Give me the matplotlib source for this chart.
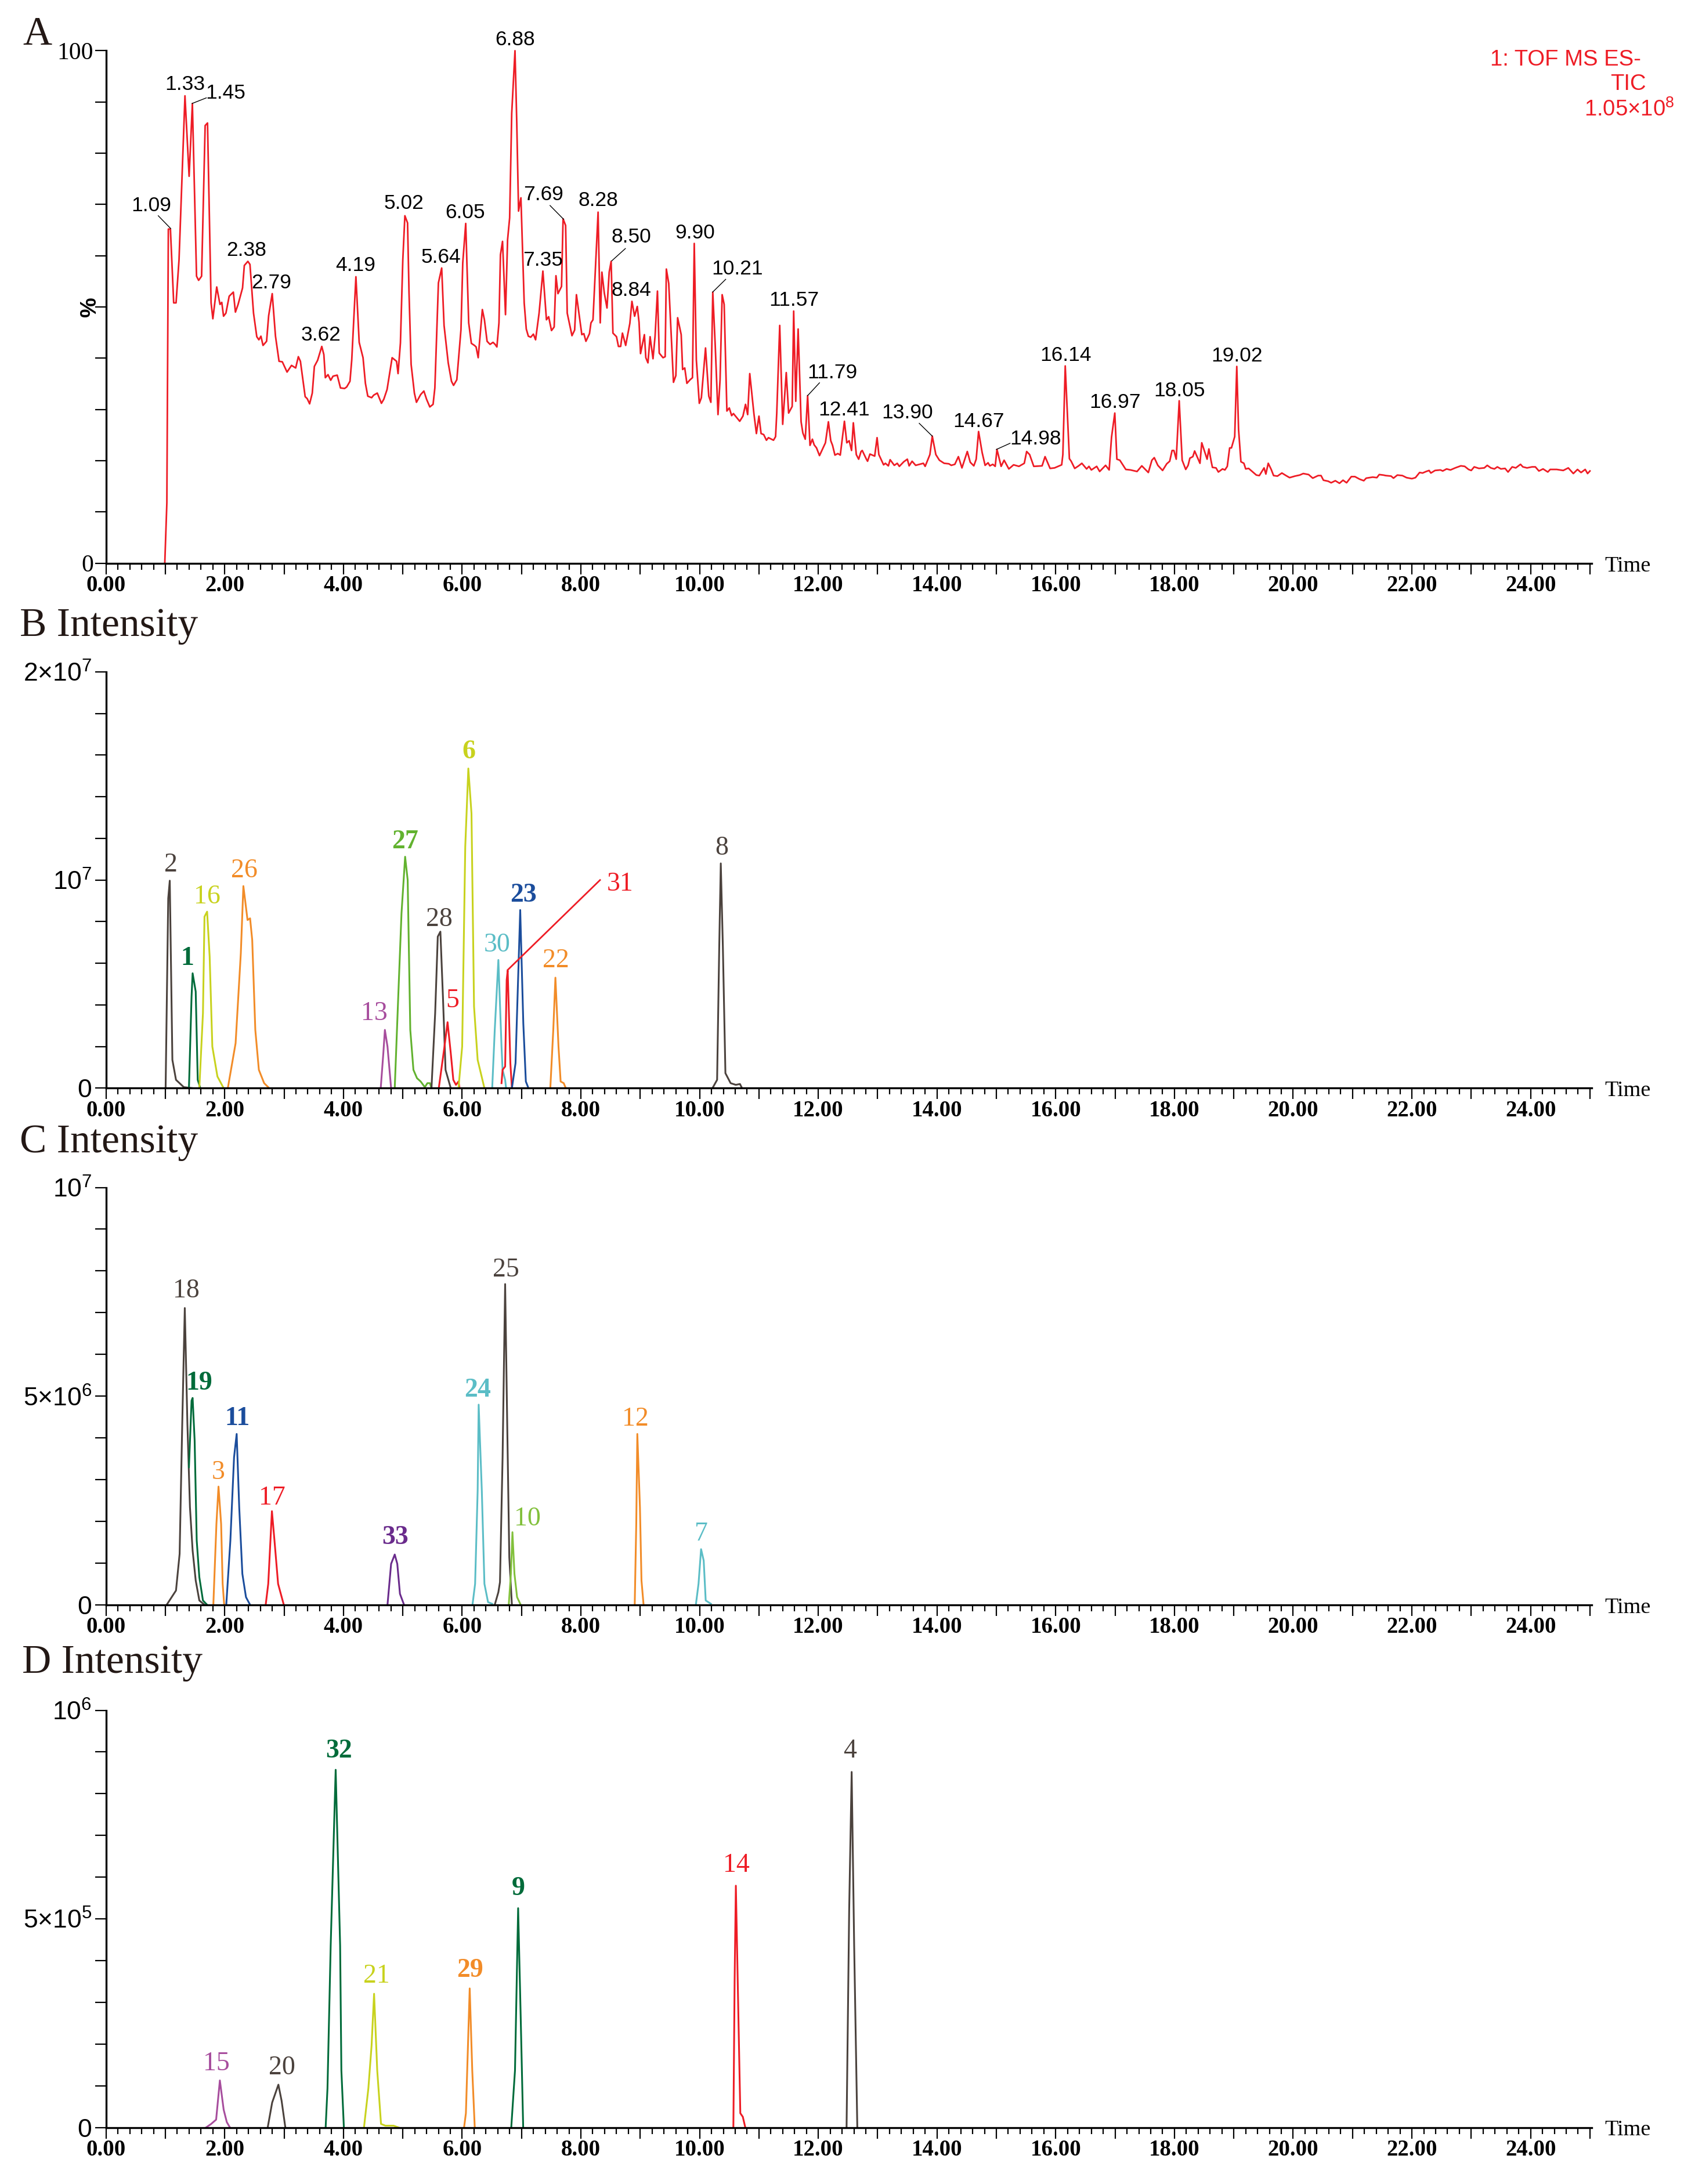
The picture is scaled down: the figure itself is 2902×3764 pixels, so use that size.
import matplotlib
matplotlib.use("Agg")
import matplotlib.pyplot as plt
import numpy as np
from matplotlib.ticker import MultipleLocator, FixedLocator, FuncFormatter

SERIF = "Liberation Serif"
SANS = "Liberation Sans"
plt.rcParams["font.family"] = SERIF
plt.rcParams["mathtext.fontset"] = "custom"
plt.rcParams["mathtext.rm"] = SANS
plt.rcParams["mathtext.it"] = SANS + ":italic"
plt.rcParams["mathtext.bf"] = SANS + ":bold"

# ---------------- panel A: TIC trace (time min, relative %) ----------------
TIC = [
    (0.99, 0), (1.025, 11.8), (1.05, 65.2), (1.085, 65.2), (1.14, 50.8), (1.18, 50.8),
    (1.23, 59.2), (1.33, 91.2), (1.40, 75.5), (1.455, 89.7), (1.525, 56.0), (1.56, 55.2),
    (1.61, 56.0), (1.67, 85.4), (1.71, 85.9), (1.77, 50.8), (1.80, 47.7), (1.865, 53.9),
    (1.92, 50.5), (1.95, 50.9), (1.98, 48.2), (2.02, 48.8), (2.075, 52.1), (2.145, 52.9),
    (2.18, 49.0), (2.225, 50.5), (2.30, 53.7), (2.33, 58.1), (2.39, 58.9), (2.425, 58.3),
    (2.485, 48.8), (2.54, 44.2), (2.575, 43.6), (2.61, 44.3), (2.645, 42.5), (2.705, 43.3),
    (2.74, 48.3), (2.80, 52.6), (2.855, 44.3), (2.915, 39.4), (2.97, 39.3), (3.05, 37.3),
    (3.125, 38.6), (3.195, 38.1), (3.24, 40.3), (3.275, 39.4), (3.355, 32.5), (3.39, 32.1),
    (3.43, 31.1), (3.475, 33.2), (3.51, 38.4), (3.565, 39.6), (3.635, 42.3), (3.67, 40.7),
    (3.695, 36.2), (3.74, 36.8), (3.785, 35.7), (3.825, 36.5), (3.895, 36.7), (3.95, 34.2),
    (4.02, 34.1), (4.055, 34.4), (4.11, 35.5), (4.14, 39.7), (4.21, 55.9), (4.265, 43.1),
    (4.33, 40.1), (4.37, 35.1), (4.41, 32.6), (4.475, 32.3), (4.51, 32.8), (4.57, 33.2),
    (4.64, 31.2), (4.68, 32.0), (4.735, 33.9), (4.82, 40.1), (4.895, 39.4), (4.92, 37.0),
    (4.96, 43.0), (5.0, 59.2), (5.035, 67.8), (5.08, 66.4), (5.105, 52.7), (5.14, 38.8),
    (5.195, 33.2), (5.23, 31.4), (5.30, 32.9), (5.355, 33.6), (5.40, 32.0), (5.455, 30.5),
    (5.51, 31.0), (5.54, 34.2), (5.60, 54.7), (5.655, 57.6), (5.695, 46.4), (5.765, 39.1),
    (5.82, 35.5), (5.855, 34.7), (5.91, 35.8), (5.98, 45.6), (6.01, 58.6), (6.06, 66.3),
    (6.11, 46.9), (6.155, 42.9), (6.207, 42.5), (6.235, 42.2), (6.27, 40.1), (6.34, 49.5),
    (6.375, 47.5), (6.42, 43.3), (6.47, 42.7), (6.52, 43.1), (6.555, 42.7), (6.585, 42.2),
    (6.62, 46.9), (6.645, 60.2), (6.68, 62.8), (6.73, 48.5), (6.765, 63.1), (6.80, 67.4),
    (6.835, 87.8), (6.89, 100.0), (6.92, 85.9), (6.95, 68.7), (6.99, 71.3), (7.045, 50.8),
    (7.08, 45.7), (7.115, 44.3), (7.155, 44.1), (7.2, 44.7), (7.237, 43.6), (7.296, 48.8),
    (7.36, 57.0), (7.42, 47.5), (7.457, 48.1), (7.505, 45.4), (7.55, 46.1), (7.58, 56.1),
    (7.614, 52.6), (7.674, 54.0), (7.70, 67.2), (7.743, 65.9), (7.77, 48.8), (7.85, 44.4),
    (7.895, 45.5), (7.925, 52.4), (7.97, 48.5), (8.016, 44.6), (8.05, 44.8), (8.085, 43.3),
    (8.145, 44.8), (8.17, 46.9), (8.204, 47.5), (8.29, 68.5), (8.326, 46.9), (8.354, 56.8),
    (8.395, 52.7), (8.44, 49.8), (8.477, 56.8), (8.51, 58.9), (8.54, 44.9), (8.6, 44.2),
    (8.633, 42.3), (8.67, 42.3), (8.70, 44.9), (8.755, 42.5), (8.825, 46.8), (8.86, 51.1),
    (8.905, 48.2), (8.95, 50.1), (8.98, 47.0), (9.005, 40.9), (9.07, 44.6), (9.094, 40.1),
    (9.13, 39.1), (9.166, 44.2), (9.215, 39.9), (9.25, 44.3), (9.29, 53.1), (9.32, 41.0),
    (9.384, 40.1), (9.42, 40.3), (9.44, 57.4), (9.48, 54.6), (9.52, 44.9), (9.56, 35.3),
    (9.6, 36.6), (9.63, 47.9), (9.69, 44.6), (9.714, 37.8), (9.75, 38.1), (9.786, 35.1),
    (9.84, 35.8), (9.88, 36.2), (9.91, 62.4), (9.945, 39.7), (9.995, 31.2), (10.03, 32.3),
    (10.1, 42.0), (10.155, 32.6), (10.19, 31.4), (10.222, 52.9), (10.264, 42.3), (10.31, 29.0),
    (10.345, 35.8), (10.38, 52.4), (10.414, 50.5), (10.46, 29.7), (10.5, 30.3), (10.54, 28.8),
    (10.57, 29.2), (10.676, 27.7), (10.73, 28.7), (10.774, 31.0), (10.81, 29.0), (10.845, 37.0),
    (10.915, 29.2), (10.957, 25.3), (11.0, 28.7), (11.036, 25.3), (11.08, 25.1), (11.126, 24.0),
    (11.16, 24.5), (11.245, 24.0), (11.28, 24.7), (11.3, 29.3), (11.35, 46.4), (11.4, 27.1),
    (11.46, 37.2), (11.50, 29.3), (11.56, 30.6), (11.585, 49.2), (11.62, 31.6), (11.66, 45.7),
    (11.71, 27.6), (11.74, 25.4), (11.78, 24.2), (11.82, 32.7), (11.86, 23.0), (11.90, 24.2),
    (11.93, 23.1), (11.97, 22.5), (12.02, 21.0), (12.12, 23.5), (12.17, 27.6), (12.21, 23.9),
    (12.24, 23.0), (12.28, 21.1), (12.33, 21.4), (12.37, 21.1), (12.44, 27.7), (12.48, 23.5),
    (12.52, 23.9), (12.56, 22.0), (12.59, 27.4), (12.64, 21.2), (12.68, 20.3), (12.72, 21.8),
    (12.74, 22.0), (12.81, 20.3), (12.83, 19.9), (12.87, 21.3), (12.95, 20.9), (12.99, 24.5),
    (13.02, 21.2), (13.10, 19.2), (13.13, 19.5), (13.18, 19.0), (13.21, 20.2), (13.28, 19.1),
    (13.33, 19.5), (13.365, 18.9), (13.44, 19.8), (13.50, 20.3), (13.53, 19.0), (13.58, 19.9),
    (13.64, 19.1), (13.77, 19.5), (13.80, 18.9), (13.88, 21.2), (13.92, 24.8), (13.98, 21.2),
    (14.04, 20.1), (14.12, 19.5), (14.20, 19.4), (14.24, 19.1), (14.30, 19.3), (14.36, 20.8),
    (14.42, 18.6), (14.51, 21.8), (14.56, 19.7), (14.62, 19.0), (14.66, 20.3), (14.70, 25.7),
    (14.76, 21.6), (14.81, 19.1), (14.86, 19.6), (14.89, 19.0), (14.94, 19.3), (14.98, 18.9),
    (15.01, 22.2), (15.08, 18.9), (15.13, 20.1), (15.21, 18.4), (15.29, 19.2), (15.38, 18.9),
    (15.47, 19.5), (15.51, 21.8), (15.56, 21.2), (15.63, 18.9), (15.77, 19.0), (15.82, 20.8),
    (15.905, 18.5), (15.98, 18.6), (16.04, 18.9), (16.10, 19.2), (16.12, 21.2), (16.16, 38.5),
    (16.23, 20.4), (16.26, 19.9), (16.32, 18.5), (16.385, 19.0), (16.44, 19.5), (16.52, 18.4),
    (16.56, 18.9), (16.60, 18.2), (16.69, 18.9), (16.74, 17.9), (16.84, 19.1), (16.90, 18.2),
    (16.94, 24.6), (16.995, 29.3), (17.03, 20.3), (17.08, 20.1), (17.18, 18.3), (17.26, 18.2),
    (17.37, 17.9), (17.45, 19.0), (17.56, 17.7), (17.62, 20.1), (17.66, 20.6), (17.72, 19.1),
    (17.80, 18.1), (17.87, 19.4), (17.92, 19.9), (17.96, 22.0), (17.99, 22.0), (18.03, 20.3),
    (18.08, 31.7), (18.13, 20.1), (18.19, 18.3), (18.23, 19.1), (18.26, 20.5), (18.31, 20.8),
    (18.34, 21.9), (18.43, 19.5), (18.46, 23.5), (18.55, 20.3), (18.58, 22.3), (18.62, 19.8),
    (18.64, 18.7), (18.70, 18.6), (18.74, 17.8), (18.81, 18.4), (18.85, 18.2), (18.89, 18.9),
    (18.93, 22.5), (18.96, 22.5), (19.015, 24.7), (19.05, 38.4), (19.08, 26.1), (19.12, 19.8),
    (19.17, 19.5), (19.20, 18.4), (19.25, 18.5), (19.38, 17.2), (19.43, 17.1), (19.51, 18.6),
    (19.54, 17.4), (19.58, 19.5), (19.63, 18.3), (19.67, 17.1), (19.735, 17.0), (19.81, 17.6),
    (19.88, 17.1), (19.94, 16.7), (20.03, 17.0), (20.11, 17.2), (20.17, 17.5), (20.26, 17.3),
    (20.33, 16.6), (20.42, 17.1), (20.47, 17.1), (20.51, 16.2), (20.59, 16.0), (20.64, 15.7),
    (20.71, 16.1), (20.78, 15.6), (20.84, 16.2), (20.90, 15.7), (20.98, 16.9), (21.04, 16.9),
    (21.12, 16.4), (21.19, 16.1), (21.23, 16.6), (21.34, 16.8), (21.41, 16.7), (21.45, 17.3),
    (21.52, 17.2), (21.56, 17.1), (21.65, 17.0), (21.69, 16.6), (21.755, 17.2), (21.84, 17.1),
    (21.91, 16.7), (22.00, 16.5), (22.06, 16.7), (22.13, 17.7), (22.18, 17.6), (22.24, 17.9),
    (22.29, 18.1), (22.32, 17.6), (22.39, 18.1), (22.48, 18.2), (22.52, 18.0), (22.585, 18.4),
    (22.65, 18.2), (22.73, 18.6), (22.825, 19.0), (22.89, 18.9), (22.955, 18.3), (23.0, 18.1),
    (23.05, 18.8), (23.13, 18.5), (23.22, 18.6), (23.27, 19.1), (23.33, 18.6), (23.39, 18.4),
    (23.44, 18.8), (23.50, 18.4), (23.57, 18.5), (23.62, 17.8), (23.69, 18.8), (23.75, 18.6),
    (23.83, 19.3), (23.87, 18.8), (23.94, 18.6), (24.025, 18.8), (24.08, 18.8), (24.14, 18.0),
    (24.21, 18.4), (24.29, 17.8), (24.33, 18.3), (24.44, 18.3), (24.55, 18.1), (24.635, 18.6),
    (24.72, 17.5), (24.79, 18.3), (24.85, 17.7), (24.92, 18.3), (24.96, 17.5), (25.0, 18.0),
]

# peak annotations of panel A: text, label position (t, %)
A_LABELS = [
    ("1.09", 0.76, 69.8), ("1.33", 1.33, 93.4), ("1.45", 2.01, 91.7), ("2.38", 2.37, 61.0),
    ("2.79", 2.79, 54.7), ("3.62", 3.62, 44.5), ("4.19", 4.20, 58.1), ("5.02", 5.02, 70.2),
    ("5.64", 5.64, 59.7), ("6.05", 6.05, 68.4), ("6.88", 6.89, 102.1), ("7.69", 7.37, 71.9),
    ("7.35", 7.36, 59.1), ("8.28", 8.29, 70.8), ("8.50", 8.85, 63.7), ("8.84", 8.85, 53.2),
    ("9.90", 9.92, 64.4), ("10.21", 10.64, 57.4), ("11.57", 11.59, 51.3), ("11.79", 12.24, 37.2),
    ("12.41", 12.43, 29.9), ("13.90", 13.50, 29.3), ("14.67", 14.70, 27.7), ("14.98", 15.66, 24.2),
    ("16.14", 16.17, 40.6), ("16.97", 17.00, 31.4), ("18.05", 18.08, 33.7), ("19.02", 19.05, 40.4),
]
# leader lines (t0, p0, t1, p1)
A_LEADERS = [
    (0.88, 67.8, 1.09, 65.3), (1.69, 90.8, 1.45, 89.7), (7.48, 69.8, 7.71, 67.1),
    (8.75, 61.4, 8.52, 59.0), (10.44, 55.4, 10.22, 52.9), (12.02, 35.2, 11.82, 32.7),
    (13.70, 27.3, 13.92, 24.8), (15.23, 23.4, 15.00, 22.2),
]

# ---------------- panels B, C, D: extracted ion peaks ----------------
# B intensities in units of 1e7
B_PEAKS = {
    "2": ([1.004, 1.048, 1.074, 1.118, 1.179, 1.310, 1.459], [0, 0.912, 0.997, 0.136, 0.04, 0.005, 0]),
    "1": ([1.397, 1.441, 1.459, 1.511, 1.545, 1.589], [0, 0.44, 0.552, 0.464, 0.04, 0]),
    "16": ([1.572, 1.633, 1.659, 1.703, 1.746, 1.791, 1.877, 1.982], [0, 0.36, 0.824, 0.848, 0.632, 0.2, 0.056, 0]),
    "26": ([2.052, 2.183, 2.271, 2.314, 2.384, 2.427, 2.463, 2.515, 2.575, 2.664, 2.750],
           [0, 0.216, 0.648, 0.971, 0.808, 0.816, 0.712, 0.28, 0.088, 0.024, 0]),
    "13": ([4.628, 4.672, 4.698, 4.742, 4.803], [0, 0.168, 0.28, 0.2, 0]),
    "27": ([4.864, 4.934, 4.978, 5.039, 5.082, 5.126, 5.179, 5.239, 5.301, 5.371, 5.414, 5.458, 5.483],
           [0, 0.52, 0.84, 1.112, 1.0, 0.28, 0.088, 0.048, 0.032, 0.005, 0.024, 0.024, 0]),
    "28": ([5.483, 5.545, 5.589, 5.633, 5.676, 5.720, 5.808], [0, 0.36, 0.728, 0.752, 0.44, 0.088, 0]),
    "5": ([5.606, 5.702, 5.754, 5.808, 5.851, 5.895, 5.938, 5.956], [0, 0.2, 0.317, 0.168, 0.04, 0.016, 0.032, 0]),
    "6": ([5.938, 6.000, 6.052, 6.104, 6.157, 6.200, 6.261, 6.375], [0, 0.2, 1.16, 1.536, 1.32, 0.392, 0.136, 0]),
    "30": ([6.506, 6.549, 6.610, 6.663, 6.681, 6.724, 6.740], [0, 0.28, 0.616, 0.2, 0.088, 0.04, 0]),
    "31": ([6.663, 6.681, 6.724, 6.750, 6.767, 6.812, 6.838], [0.024, 0.088, 0.104, 0.52, 0.565, 0.12, 0]),
    "23": ([6.838, 6.899, 6.978, 7.030, 7.073, 7.117], [0, 0.12, 0.856, 0.312, 0.032, 0]),
    "22": ([7.485, 7.535, 7.571, 7.623, 7.659, 7.711, 7.746], [0, 0.28, 0.531, 0.2, 0.032, 0.024, 0]),
    "8": ([10.217, 10.295, 10.331, 10.357, 10.392, 10.435, 10.523, 10.610, 10.680, 10.715],
          [0, 0.04, 0.68, 1.08, 0.68, 0.072, 0.024, 0.016, 0.02, 0]),
}
B_LABEL_POS = {
    "2": (1.092, 1.072), "1": (1.371, 0.624), "16": (1.703, 0.92), "26": (2.332, 1.045),
    "13": (4.515, 0.36), "27": (5.039, 1.184), "28": (5.615, 0.811), "5": (5.834, 0.419),
    "6": (6.112, 1.616), "30": (6.593, 0.688), "31": (8.663, 0.981), "23": (7.030, 0.928),
    "22": (7.580, 0.611), "8": (10.375, 1.152),
}
B_LEADER = (6.767, 0.568, 8.323, 1.0)

# C intensities in units of 1e6
C_PEAKS = {
    "18": ([1.022, 1.179, 1.240, 1.284, 1.327, 1.371, 1.414, 1.459, 1.511, 1.572, 1.659],
           [0, 0.343, 1.221, 4.334, 7.111, 4.334, 2.338, 1.30, 0.583, 0.104, 0]),
    "19": ([1.397, 1.441, 1.459, 1.493, 1.528, 1.572, 1.633, 1.703], [3.296, 4.892, 4.956, 3.935, 1.54, 0.662, 0.104, 0]),
    "3": ([1.808, 1.860, 1.895, 1.939, 1.965, 1.991], [0, 1.939, 2.833, 1.939, 0.503, 0]),
    "11": ([2.026, 2.095, 2.157, 2.201, 2.244, 2.297, 2.358, 2.427], [0, 1.54, 3.536, 4.094, 2.338, 0.742, 0.184, 0]),
    "17": ([2.690, 2.733, 2.795, 2.838, 2.899, 2.995], [0, 0.503, 2.243, 1.54, 0.503, 0]),
    "33": ([4.742, 4.803, 4.864, 4.907, 4.952, 5.021], [0, 0.982, 1.205, 0.982, 0.263, 0]),
    "24": ([6.174, 6.218, 6.261, 6.278, 6.331, 6.375, 6.436, 6.506], [0, 0.503, 2.737, 4.796, 2.737, 0.503, 0.064, 0.024]),
    "25": ([6.549, 6.610, 6.637, 6.681, 6.724, 6.759, 6.794, 6.838], [0, 0.303, 0.543, 3.536, 7.685, 4.334, 1.141, 0]),
    "10": ([6.785, 6.821, 6.847, 6.881, 6.925, 6.986], [0, 0.742, 1.74, 0.742, 0.184, 0]),
    "12": ([8.907, 8.933, 8.951, 8.995, 9.021, 9.056], [0, 1.939, 4.094, 2.338, 0.583, 0]),
    "7": ([9.937, 9.982, 10.025, 10.069, 10.103, 10.191], [0, 0.503, 1.333, 1.061, 0.104, 0.024]),
}
C_LABEL_POS = {
    "18": (1.353, 7.526), "19": (1.572, 5.307), "3": (1.895, 3.176), "11": (2.209, 4.453),
    "17": (2.795, 2.562), "33": (4.873, 1.604), "24": (6.261, 5.148), "25": (6.741, 8.029),
    "10": (7.099, 2.059), "12": (8.916, 4.453), "7": (10.025, 1.70),
}

# D intensities in units of 1e5
D_PEAKS = {
    "15": ([1.685, 1.771, 1.855, 1.918, 1.982, 2.035, 2.088], [0, 0.085, 0.188, 1.128, 0.427, 0.128, 0]),
    "20": ([2.724, 2.799, 2.904, 2.958, 3.021], [0, 0.598, 1.026, 0.641, 0]),
    "32": ([3.700, 3.731, 3.785, 3.869, 3.944, 3.965, 4.007], [0, 0.94, 4.359, 8.573, 4.359, 1.368, 0]),
    "21": ([4.346, 4.420, 4.474, 4.516, 4.569, 4.633, 4.707, 4.845, 4.929], [0, 0.94, 1.966, 3.205, 1.368, 0.085, 0.043, 0.043, 0]),
    "29": ([6.032, 6.063, 6.127, 6.170, 6.212], [0, 0.342, 3.333, 1.368, 0]),
    "9": ([6.827, 6.890, 6.943, 6.986, 7.028], [0, 1.368, 5.256, 2.65, 0]),
    "14": ([10.569, 10.590, 10.611, 10.654, 10.686, 10.728, 10.770], [0, 3.504, 5.795, 2.65, 0.342, 0.256, 0]),
    "4": ([12.476, 12.520, 12.562, 12.604, 12.657], [0, 5.214, 8.521, 4.359, 0]),
}
D_LABEL_POS = {
    "15": (1.855, 1.521), "20": (2.968, 1.436), "32": (3.922, 9.017), "21": (4.558, 3.632),
    "29": (6.128, 3.761), "9": (6.943, 5.726), "14": (10.621, 6.282), "4": (12.530, 9.017),
}

GRAY, DGREEN, YGREEN, ORANGE = "#4b423d", "#006b3a", "#c8d21e", "#f28c28"
MAGENTA, GREEN, RED, CYAN = "#a74d9d", "#62b22f", "#ee1c25", "#5bbdc6"
BLUE, PURPLE, LGREEN = "#1b4d9c", "#6a2b8c", "#82c03c"

COLORS = {
    "B": {"2": GRAY, "1": DGREEN, "16": YGREEN, "26": ORANGE, "13": MAGENTA, "27": GREEN,
          "28": GRAY, "5": RED, "6": YGREEN, "30": CYAN, "31": RED, "23": BLUE, "22": ORANGE, "8": GRAY},
    "C": {"18": GRAY, "19": DGREEN, "3": ORANGE, "11": BLUE, "17": RED, "33": PURPLE,
          "24": CYAN, "25": GRAY, "10": LGREEN, "12": ORANGE, "7": CYAN},
    "D": {"15": MAGENTA, "20": GRAY, "32": DGREEN, "21": YGREEN, "29": ORANGE, "9": DGREEN,
          "14": RED, "4": GRAY},
}
BOLD = {"B": {"1", "27", "6", "23"}, "C": {"19", "11", "24", "33"}, "D": {"32", "9", "29"}}

W, H = 2902, 3764
LEFT, AX_W = 182.7 / W, 2560.3 / W
XMAX = 25.03


def style_axes(ax):
    for s in ("top", "right"):
        ax.spines[s].set_visible(False)
    for s in ("left", "bottom"):
        ax.spines[s].set_linewidth(2.4)
    ax.set_xlim(0, XMAX)
    ax.xaxis.set_major_locator(MultipleLocator(1))
    ax.xaxis.set_minor_locator(MultipleLocator(0.2))
    ax.xaxis.set_major_formatter(
        FuncFormatter(lambda v, p: "%.2f" % v if int(round(v)) % 2 == 0 else ""))
    ax.tick_params(axis="x", which="major", direction="out", length=13.7, width=1.6,
                   pad=1, labelsize=28)
    ax.tick_params(axis="x", which="minor", direction="out", length=7.9, width=1.6)
    ax.tick_params(axis="y", which="major", direction="out", length=13.5, width=1.6, pad=4)
    plt.setp(ax.get_xticklabels(), fontweight="bold", family=SERIF)
    ax.annotate("Time", xy=(1, 0), xycoords="axes fraction", xytext=(16, -10),
                textcoords="offset points", va="baseline", ha="left",
                fontsize=27.5, family=SERIF)


fig = plt.figure(figsize=(W / 100, H / 100), dpi=100)

# ---------------- A ----------------
axA = fig.add_axes([LEFT, 1 - 970.7 / H, AX_W, 883.3 / H])
style_axes(axA)
tic = np.array(TIC)
axA.plot(tic[:, 0], tic[:, 1], color=RED, lw=2.0, clip_on=False)
axA.set_ylim(0, 100)
axA.yaxis.set_major_locator(MultipleLocator(10))
axA.yaxis.set_major_formatter(FuncFormatter(lambda v, p: {0: "0", 100: "100"}.get(int(round(v)), "")))
axA.tick_params(axis="y", labelsize=30, pad=2)
for txt, tx, ty in A_LABELS:
    axA.text(tx, ty, txt, ha="center", va="center", fontsize=25.5, family=SANS)
for t0, p0, t1, p1 in A_LEADERS:
    axA.plot([t0, t1], [p0, p1], color="black", lw=1.0, clip_on=False)
axA.text(-0.27, 50, "%", rotation=90, ha="center", va="center", fontsize=28,
         family=SANS, fontweight="bold")
fig.text(2828 / W, 1 - 103 / H, "1: TOF MS ES-", ha="right", va="center",
         fontsize=27.5, family=SANS, color=RED)
fig.text(2837 / W, 1 - 145 / H, "TIC", ha="right", va="center",
         fontsize=27.5, family=SANS, color=RED)
fig.text(2885 / W, 1 - 189 / H, r"$\mathrm{1.05×10^{8}}$", ha="right", va="center",
         fontsize=27.5, color=RED)


def peak_panel(bottom, height, key, peaks, label_pos, unit, ymax, yticks, ylabels):
    ax = fig.add_axes([LEFT, bottom, AX_W, height])
    style_axes(ax)
    for name, (ts, vals) in peaks.items():
        ax.plot(ts, np.array(vals) * unit, color=COLORS[key][name], lw=2.2)
    for name, (lx, ly) in label_pos.items():
        ax.text(lx, ly * unit, name, ha="center", va="center", fontsize=33,
                family=SERIF, color=COLORS[key][name],
                fontweight="bold" if name in BOLD[key] else "normal")
    ax.set_ylim(0, ymax)
    ax.yaxis.set_major_locator(FixedLocator(yticks))
    lab = dict(ylabels)
    ax.yaxis.set_major_formatter(
        FuncFormatter(lambda v, p: lab.get(int(round(v / unit * 10)), "")))
    ax.tick_params(axis="y", labelsize=32)
    plt.setp(ax.get_yticklabels(), family=SANS)
    return ax


axB = peak_panel(1 - 1875.4 / H, 717.4 / H, "B", B_PEAKS, B_LABEL_POS, 1e7, 2e7,
                 np.arange(0, 2.01e7, 2e6),
                 [(0, "0"), (10, r"$\mathrm{10^{7}}$"), (20, r"$\mathrm{2×10^{7}}$")])
t0, v0, t1, v1 = B_LEADER
axB.plot([t0, t1], [v0 * 1e7, v1 * 1e7], color=RED, lw=2.0)

axC = peak_panel(1 - 2765.8 / H, 719.3 / H, "C", C_PEAKS, C_LABEL_POS, 1e6, 1e7,
                 np.arange(0, 1.001e7, 1e6),
                 [(0, "0"), (50, r"$\mathrm{5×10^{6}}$"), (100, r"$\mathrm{10^{7}}$")])

axD = peak_panel(1 - 3666.6 / H, 719.1 / H, "D", D_PEAKS, D_LABEL_POS, 1e5, 1e6,
                 np.arange(0, 1.0001e6, 1e5),
                 [(0, "0"), (50, r"$\mathrm{5×10^{5}}$"), (100, r"$\mathrm{10^{6}}$")])

TITLE_COLOR = "#231815"
fig.text(39 / W, 1 - 77 / H, "A", fontsize=50, family=SERIF, color=TITLE_COLOR, va="baseline")
fig.text(34 / W, 1 - 1096 / H, "B Intensity", fontsize=50, family=SERIF, color=TITLE_COLOR, va="baseline")
fig.text(34 / W, 1 - 1986 / H, "C Intensity", fontsize=50, family=SERIF, color=TITLE_COLOR, va="baseline")
fig.text(38 / W, 1 - 2883 / H, "D Intensity", fontsize=50, family=SERIF, color=TITLE_COLOR, va="baseline")

fig.savefig("out.png", dpi=100)
